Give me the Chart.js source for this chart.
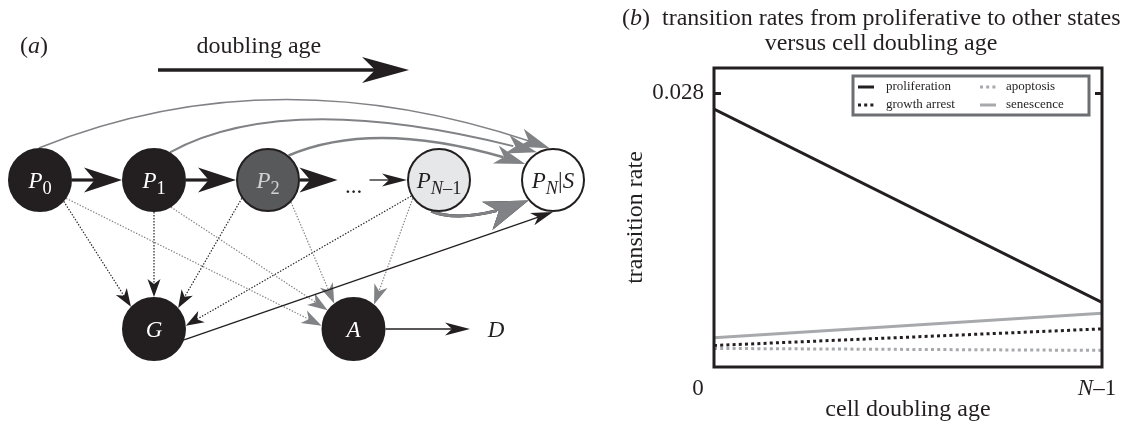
<!DOCTYPE html>
<html>
<head>
<meta charset="utf-8">
<script src="https://cdn.jsdelivr.net/npm/chart.js@4.4.1/dist/chart.umd.min.js"></script>
<style>
  body { margin: 0; background: #fff; }
  #wrap { position: relative; width: 1126px; height: 427px; }
  canvas { position: absolute; top: 0; }
</style>
</head>
<body>
<div id="wrap">
  <canvas id="diagram" width="600" height="427" style="left:0"></canvas>
  <canvas id="rates" width="526" height="427" style="left:600px"></canvas>
</div>
<script>
// ============================================
// DATA
// ============================================

// panel (a): states of the model, placed on a column / row grid
const stateNames = ['P0', 'P1', 'P2', 'dots', 'PN1', 'PN', 'G', 'A', 'D'];
const stateCol   = [0, 1, 2, 2.75, 3.5, 4.5, 1, 2.75, 4];
const stateRow   = [0, 0, 0, 0, 0, 0, 1, 1, 1];
const circleStates = ['P0', 'P1', 'P2', 'PN1', 'PN', 'G', 'A'];

// transitions between states: from, to, kind
const transitions = [
  ['P0', 'P1', 'divide'], ['P1', 'P2', 'divide'], ['P2', 'dots', 'divide'],
  ['dots', 'PN1', 'step'], ['PN1', 'PN', 'step'],
  ['P0', 'G', 'arrest'], ['P1', 'G', 'arrest'], ['P2', 'G', 'arrest'], ['PN1', 'G', 'arrest'],
  ['P0', 'A', 'apoptosis'], ['P1', 'A', 'apoptosis'], ['P2', 'A', 'apoptosis'], ['PN1', 'A', 'apoptosis'],
  ['G', 'PN', 'step'], ['A', 'D', 'step'],
  ['P0', 'PN', 'senesce'], ['P1', 'PN', 'senesce'], ['P2', 'PN', 'senesce'], ['PN1', 'PN', 'senesce']
];

// panel (b): transition rates from proliferative state vs doubling age
const doublingAge   = [0, 1];          // 0 ... N-1
const proliferation = [0.0264, 0.0066];
const growthArrest  = [0.0022, 0.0039];
const apoptosis     = [0.0019, 0.0017];
const senescence    = [0.0030, 0.0055];
const rateTicks     = [0.028];
const ageTickLabels = [[['0', 'r']], [['N', 'i'], ['–1', 'r']]];

// ============================================
// STYLE
// ============================================
const FONT = '"Liberation Serif", "Times New Roman", serif';
const INK = '#231f20';
const GREY = '#808285';
const LIGHT = '#a7a9ac';

const nodeFill = { P0: INK, P1: INK, P2: '#58595b', PN1: '#e6e7e8', PN: '#ffffff', G: INK, A: INK };
const nodeLabels = {
  P0: [['P', 'i'], ['0', 'sr']],
  P1: [['P', 'i'], ['1', 'sr']],
  P2: [['P', 'i'], ['2', 'sr']],
  PN1: [['P', 'i'], ['N', 'si'], ['–1', 'sr']],
  PN: [['P', 'i'], ['N', 'si'], ['|', 'r'], ['S', 'i']],
  G: [['G', 'i']], A: [['A', 'i']], D: [['D', 'i']], dots: [['...', 'r']]
};
const labelColor = { P0: '#fff', P1: '#fff', P2: '#d1d3d4', PN1: INK, PN: INK, G: '#fff', A: '#fff', D: INK, dots: INK };
const labelDrop = { dots: 5 };
const trimRadius = { dots: 16, D: 26 };
const NODE_R = 31;
const tickShift = [-16, -5];
const COL_PX = 114, ROW_PX = 149;   // grid spacing in pixels

const kindStyle = {
  divide:    { color: INK,  width: 3.2, dash: [],         head: [38, 12.5] },
  step:      { color: INK,  width: 1.3, dash: [],         head: [25, 6.5] },
  arrest:    { color: INK,  width: 1.2, dash: [1.4, 1.6], head: [18, 6.5] },
  apoptosis: { color: GREY, width: 1.2, dash: [1.4, 1.6], head: [20, 7] },
  senesce:   { color: GREY, width: 2,   dash: [],         head: [31, 9.5] }
};

// attach angles (deg) and bends for individual transitions
const routes = {
  'P0>G':   { a0: 42, a1: -136 },
  'P2>G':   { a0: 145, a1: -41 },
  'PN1>G':  { a0: 150, a1: -6 },
  'P0>A':   { a0: 35, a1: -174 },
  'P1>A':   { a0: 58, a1: -144 },
  'P2>A':   { a0: 44, a1: -127 },
  'PN1>A':  { a0: 145, a1: -50 },
  'G>PN':   { a0: 20, a1: 90, head: [22, 6.5] },
  'P0>PN':  { a0: -92, a1: -96, t: 0.47, h: -97, width: 1.5 },
  'P1>PN':  { a0: -60, a1: -120, t: 0.33, h: -66, width: 2 },
  'P2>PN':  { a0: -50, a1: -150, t: 0.38, h: -42, width: 2.6 },
  'PN1>PN': { a0: 104, a1: 140, t: 0.31, h: 17, width: 3, head: [44, 15] }
};

// ============================================
// HELPERS
// ============================================
function partFont(st, size) {
  const sub = st[0] === 's';
  const it = st[st.length - 1] === 'i';
  return (it ? 'italic ' : '') + (sub ? size * 0.8 : size) + 'px ' + FONT;
}

function drawRich(ctx, parts, x, baseY, size, color, align) {
  let w = 0;
  parts.forEach(p => { ctx.font = partFont(p[1], size); w += ctx.measureText(p[0]).width; });
  if (align === 'center' || !align) x -= w / 2;
  else if (align === 'right') x -= w;
  ctx.textAlign = 'left';
  ctx.textBaseline = 'alphabetic';
  ctx.fillStyle = color;
  parts.forEach(p => {
    ctx.font = partFont(p[1], size);
    ctx.fillText(p[0], x, baseY + (p[1][0] === 's' ? size * 0.24 : 0));
    x += ctx.measureText(p[0]).width;
  });
}

function arrowHead(ctx, tip, ux, uy, L, W, color) {
  const px = -uy, py = ux;
  const bx = tip.x - ux * L, by = tip.y - uy * L;
  ctx.fillStyle = color;
  ctx.beginPath();
  ctx.moveTo(tip.x, tip.y);
  ctx.lineTo(bx + px * W, by + py * W);
  ctx.lineTo(tip.x - ux * L * 0.72, tip.y - uy * L * 0.72);
  ctx.lineTo(bx - px * W, by - py * W);
  ctx.closePath();
  ctx.fill();
}

function statePx(chart, name) {
  const i = stateNames.indexOf(name);
  return { x: chart.scales.x.getPixelForValue(stateCol[i]), y: chart.scales.y.getPixelForValue(stateRow[i]) };
}

function drawTransition(chart, tr) {
  const ctx = chart.ctx;
  const [from, to, kind] = tr;
  const route = routes[from + '>' + to] || {};
  const st = kindStyle[kind];
  const color = st.color;
  const width = route.width || st.width;
  const [L, W] = route.head || st.head;
  const c0 = statePx(chart, from), c1 = statePx(chart, to);
  const r0 = (trimRadius[from] || NODE_R + 1), r1 = (trimRadius[to] || NODE_R + 1);
  const ang = Math.atan2(c1.y - c0.y, c1.x - c0.x);
  const a0 = route.a0 != null ? route.a0 * Math.PI / 180 : ang;
  const a1 = route.a1 != null ? route.a1 * Math.PI / 180 : ang + Math.PI;
  const s = { x: c0.x + r0 * Math.cos(a0), y: c0.y + r0 * Math.sin(a0) };
  const e = { x: c1.x + r1 * Math.cos(a1), y: c1.y + r1 * Math.sin(a1) };

  ctx.save();
  ctx.strokeStyle = color;
  ctx.lineWidth = width;
  ctx.setLineDash(st.dash);
  ctx.lineCap = 'butt';
  ctx.beginPath();
  ctx.moveTo(s.x, s.y);
  let ux, uy;
  if (route.t != null) {
    const dx = e.x - s.x, dy = e.y - s.y, len = Math.hypot(dx, dy);
    const nx = -dy / len, ny = dx / len;
    const c = { x: s.x + route.t * dx + route.h * nx, y: s.y + route.t * dy + route.h * ny };
    const tl = Math.hypot(e.x - c.x, e.y - c.y);
    ux = (e.x - c.x) / tl; uy = (e.y - c.y) / tl;
    const approx = (len + Math.hypot(c.x - s.x, c.y - s.y) + tl) / 2;
    const u = 1 - (L * 0.6) / approx;
    const q1 = { x: s.x + u * (c.x - s.x), y: s.y + u * (c.y - s.y) };
    const q2 = {
      x: (1 - u) * (1 - u) * s.x + 2 * u * (1 - u) * c.x + u * u * e.x,
      y: (1 - u) * (1 - u) * s.y + 2 * u * (1 - u) * c.y + u * u * e.y
    };
    ctx.quadraticCurveTo(q1.x, q1.y, q2.x, q2.y);
  } else {
    const len = Math.hypot(e.x - s.x, e.y - s.y);
    ux = (e.x - s.x) / len; uy = (e.y - s.y) / len;
    ctx.lineTo(e.x - ux * L * 0.6, e.y - uy * L * 0.6);
  }
  ctx.stroke();
  ctx.setLineDash([]);
  arrowHead(ctx, e, ux, uy, L, W, color);
  ctx.restore();
}

// ============================================
// PANEL (a): state diagram
// ============================================
const diagramPlugin = {
  id: 'diagramEdges',
  beforeDatasetsDraw(chart) {
    const ctx = chart.ctx;
    const sx = chart.scales.x, sy = chart.scales.y;
    transitions.forEach(tr => drawTransition(chart, tr));

    // doubling age arrow
    ctx.save();
    const y = sy.getPixelForValue(-0.738);
    const x0 = sx.getPixelForValue(1.035), x1 = sx.getPixelForValue(3.237);
    ctx.strokeStyle = INK;
    ctx.lineWidth = 3.5;
    ctx.beginPath();
    ctx.moveTo(x0, y);
    ctx.lineTo(x1 - 28, y);
    ctx.stroke();
    arrowHead(ctx, { x: x1, y: y }, 1, 0, 47, 13, INK);
    const by = sy.getPixelForValue(-0.852);
    drawRich(ctx, [['doubling age', 'r']], sx.getPixelForValue(1.92), by, 24, INK, 'center');
    drawRich(ctx, [['(', 'r'], ['a', 'i'], [')', 'r']], sx.getPixelForValue(-0.175), by, 24, INK, 'left');
    ctx.restore();
  },
  afterDatasetsDraw(chart) {
    const ctx = chart.ctx;
    ctx.save();
    Object.keys(nodeLabels).forEach(name => {
      const p = statePx(chart, name);
      drawRich(ctx, nodeLabels[name], p.x, p.y + 8 + (labelDrop[name] || 0), 23, labelColor[name], 'center');
    });
    ctx.restore();
  }
};

new Chart(document.getElementById('diagram'), {
  type: 'scatter',
  data: {
    datasets: [{
      data: circleStates.map(n => {
        const i = stateNames.indexOf(n);
        return { x: stateCol[i], y: stateRow[i] };
      }),
      pointRadius: NODE_R,
      pointHoverRadius: NODE_R,
      pointBackgroundColor: circleStates.map(n => nodeFill[n]),
      pointBorderColor: INK,
      pointBorderWidth: 2,
      clip: false
    }]
  },
  options: {
    responsive: false,
    animation: false,
    events: [],
    layout: { padding: 0, autoPadding: false },
    plugins: { legend: { display: false }, tooltip: { enabled: false } },
    scales: {
      x: { type: 'linear', display: false, min: -40 / COL_PX, max: 560 / COL_PX },
      y: { type: 'linear', display: false, reverse: true, min: -180 / ROW_PX, max: 247 / ROW_PX }
    }
  },
  plugins: [diagramPlugin]
});

// ============================================
// PANEL (b): rates chart
// ============================================
const framePlugin = {
  id: 'frame',
  afterDatasetsDraw(chart) {
    const { ctx, chartArea: a, scales } = chart;
    ctx.save();
    // box round the plot
    ctx.strokeStyle = INK;
    ctx.lineWidth = 3;
    ctx.strokeRect(a.left, a.top, a.right - a.left, a.bottom - a.top);
    rateTicks.forEach(v => {
      const y = scales.y.getPixelForValue(v);
      ctx.beginPath();
      ctx.moveTo(a.left, y); ctx.lineTo(a.left + 7, y);
      ctx.moveTo(a.right - 7, y); ctx.lineTo(a.right, y);
      ctx.stroke();
    });

    // x tick labels
    ageTickLabels.forEach((lab, i) => {
      drawRich(ctx, lab, scales.x.getPixelForValue(doublingAge[i]) + tickShift[i], a.bottom + 28, 23, INK, 'center');
    });

    // legend box
    const bx = a.left + 139, by = a.top + 8, bw = 236, bh = 39;
    ctx.fillStyle = '#fff';
    ctx.fillRect(bx, by, bw, bh);
    ctx.strokeStyle = '#6d6e71';
    ctx.lineWidth = 3;
    ctx.strokeRect(bx, by, bw, bh);
    const colSample = [5, 127], colText = [33, 153], rowY = [11, 29];
    chart.data.datasets.forEach((ds, i) => {
      const col = Math.floor(i / 2), row = i % 2;
      const y = by + rowY[row];
      ctx.strokeStyle = ds.borderColor;
      ctx.lineWidth = 3;
      ctx.setLineDash(ds.borderDash || []);
      ctx.beginPath();
      ctx.moveTo(bx + colSample[col], y);
      ctx.lineTo(bx + colSample[col] + 16, y);
      ctx.stroke();
      ctx.setLineDash([]);
      ctx.fillStyle = INK;
      ctx.font = '13px ' + FONT;
      ctx.textAlign = 'left';
      ctx.textBaseline = 'middle';
      ctx.fillText(ds.label, bx + colText[col], y);
    });

    // panel title
    drawRich(ctx, [['(', 'r'], ['b', 'i'], [')', 'r'], ['  transition rates from proliferative to other states', 'r']], 22, 25, 24, INK, 'left');
    drawRich(ctx, [['versus cell doubling age', 'r']], 281, 50, 24, INK, 'center');
    ctx.restore();
  }
};

function series(values) {
  return doublingAge.map((x, i) => ({ x: x, y: values[i] }));
}

new Chart(document.getElementById('rates'), {
  type: 'line',
  data: {
    datasets: [
      { label: 'proliferation', data: series(proliferation), borderColor: INK, borderWidth: 3 },
      { label: 'growth arrest', data: series(growthArrest), borderColor: INK, borderWidth: 3, borderDash: [3, 3.2] },
      { label: 'apoptosis', data: series(apoptosis), borderColor: LIGHT, borderWidth: 3, borderDash: [3, 3.2] },
      { label: 'senescence', data: series(senescence), borderColor: LIGHT, borderWidth: 3 }
    ]
  },
  options: {
    responsive: false,
    animation: false,
    events: [],
    layout: { padding: { top: 68, right: 24, left: 0, bottom: 0 } },
    elements: { point: { radius: 0 }, line: { tension: 0, borderCapStyle: 'butt' } },
    plugins: { legend: { display: false }, tooltip: { enabled: false } },
    scales: {
      x: {
        type: 'linear', min: 0, max: 1,
        grid: { display: false, drawTicks: false },
        border: { display: false },
        ticks: { display: false },
        title: { display: true, text: 'cell doubling age', color: INK, font: { family: FONT, size: 24 }, padding: { top: 0, bottom: 3 } },
        afterFit(s) { s.height = 60; }
      },
      y: {
        type: 'linear', min: 0, max: 0.0306,
        grid: { display: false, drawTicks: false },
        border: { display: false },
        afterBuildTicks(s) { s.ticks = rateTicks.map(v => ({ value: v })); },
        ticks: { color: INK, font: { family: FONT, size: 23 }, padding: 10, callback: v => v.toFixed(3) },
        title: { display: true, text: 'transition rate', color: INK, font: { family: FONT, size: 24 }, padding: { top: 21, bottom: 0 } },
        afterFit(s) { s.width = 114; }
      }
    }
  },
  plugins: [framePlugin]
});
</script>
</body>
</html>
